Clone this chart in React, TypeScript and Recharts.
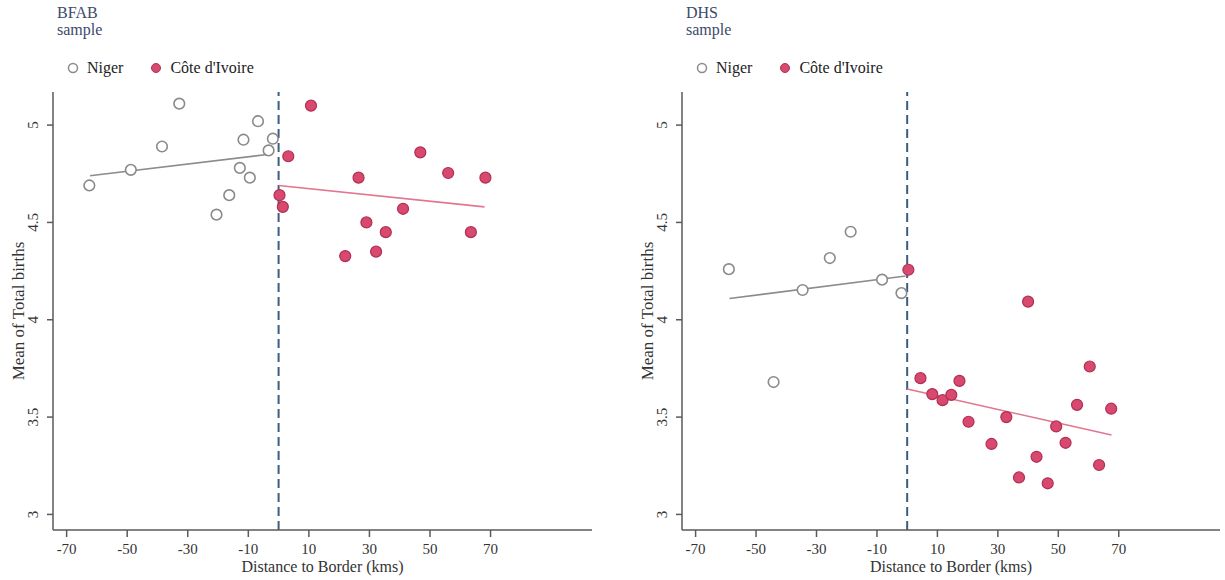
import React from 'react';
import { ScatterChart, Scatter, XAxis, YAxis, ReferenceLine, Legend } from 'recharts';

const xTicks = [-70, -50, -30, -10, 10, 30, 50, 70];
const yTicks = [3, 3.5, 4, 4.5, 5];

// BFAB sample
const bfabNiger = [
  { x: -62.5, y: 4.69 }, { x: -48.8, y: 4.77 }, { x: -38.5, y: 4.89 }, { x: -32.8, y: 5.11 },
  { x: -20.5, y: 4.54 }, { x: -16.3, y: 4.64 }, { x: -12.8, y: 4.78 }, { x: -11.6, y: 4.925 },
  { x: -9.5, y: 4.73 }, { x: -6.8, y: 5.02 }, { x: -3.3, y: 4.87 }, { x: -1.9, y: 4.93 },
];
const bfabCI = [
  { x: 0.3, y: 4.64 }, { x: 1.4, y: 4.58 }, { x: 3.2, y: 4.84 }, { x: 10.7, y: 5.1 },
  { x: 22, y: 4.327 }, { x: 26.4, y: 4.73 }, { x: 29, y: 4.5 }, { x: 32.2, y: 4.35 },
  { x: 35.4, y: 4.45 }, { x: 41.1, y: 4.57 }, { x: 46.8, y: 4.86 }, { x: 56, y: 4.754 },
  { x: 63.5, y: 4.45 }, { x: 68.3, y: 4.73 },
];
const bfabNigerFit = [{ x: -62.3, y: 4.74 }, { x: -3.2, y: 4.85 }];
const bfabCIFit = [{ x: 0, y: 4.69 }, { x: 68, y: 4.58 }];

// DHS sample
const dhsNiger = [
  { x: -59, y: 4.26 }, { x: -44.2, y: 3.68 }, { x: -34.6, y: 4.153 }, { x: -25.6, y: 4.317 },
  { x: -18.7, y: 4.452 }, { x: -8.3, y: 4.206 }, { x: -1.9, y: 4.137 },
];
const dhsCI = [
  { x: 0.4, y: 4.257 }, { x: 4.4, y: 3.7 }, { x: 8.3, y: 3.618 }, { x: 11.7, y: 3.587 },
  { x: 14.6, y: 3.614 }, { x: 17.3, y: 3.686 }, { x: 20.3, y: 3.476 }, { x: 27.9, y: 3.362 },
  { x: 32.8, y: 3.5 }, { x: 37, y: 3.19 }, { x: 40, y: 4.093 }, { x: 42.8, y: 3.296 },
  { x: 46.5, y: 3.16 }, { x: 49.3, y: 3.452 }, { x: 52.4, y: 3.368 }, { x: 56.2, y: 3.563 },
  { x: 60.4, y: 3.76 }, { x: 63.5, y: 3.254 }, { x: 67.5, y: 3.543 },
];
const dhsNigerFit = [{ x: -58.8, y: 4.109 }, { x: -0.5, y: 4.225 }];
const dhsCIFit = [{ x: 0, y: 3.644 }, { x: 67.6, y: 3.408 }];

const FONT = '"Liberation Serif", "Times New Roman", serif';
const AXIS = '#5a5a5a';
const NIGER = '#8a8a8a';
const CI_FILL = '#d8486f';
const CI_STROKE = '#b02f52';

const HollowDot = (p: any) => (
  <circle cx={p.cx} cy={p.cy} r={5.3} fill="#fff" stroke={NIGER} strokeWidth={1.6} />
);
const FilledDot = (p: any) => (
  <circle cx={p.cx} cy={p.cy} r={5.5} fill={CI_FILL} stroke={CI_STROKE} strokeWidth={1.2} />
);
const NoDot = () => <g />;

const YTick = ({ x, y, payload }: any) => (
  <text
    x={x - 9}
    y={y}
    transform={`rotate(-90 ${x - 9} ${y})`}
    textAnchor="middle"
    fontSize={15}
    fontFamily={FONT}
    fill="#333"
  >
    {payload.value}
  </text>
);

const LegendBox = () => (
  <div style={{ display: 'flex', alignItems: 'center', fontFamily: FONT, fontSize: 16, color: '#222' }}>
    <svg width={12} height={12} style={{ marginRight: 8 }}>
      <circle cx={6} cy={6} r={4.5} fill="#fff" stroke={NIGER} strokeWidth={1.5} />
    </svg>
    <span style={{ marginRight: 27 }}>Niger</span>
    <svg width={12} height={12} style={{ marginRight: 8 }}>
      <circle cx={6} cy={6} r={4.5} fill={CI_FILL} stroke={CI_STROKE} strokeWidth={1} />
    </svg>
    <span>Côte d'Ivoire</span>
  </div>
);

interface PanelProps {
  title: string;
  niger: { x: number; y: number }[];
  ci: { x: number; y: number }[];
  nigerFit: { x: number; y: number }[];
  ciFit: { x: number; y: number }[];
  left: number;
  width: number;
  right: number;
}

const Panel: React.FC<PanelProps> = ({ title, niger, ci, nigerFit, ciFit, left, width, right }) => (
  <div style={{ position: 'absolute', left, top: 0, width, height: 580 }}>
    <div style={{ position: 'absolute', left: 57, top: 4, fontFamily: FONT, fontSize: 16, lineHeight: '17px', color: '#3b4a6b' }}>
      {title}
      <br />
      sample
    </div>
    <ScatterChart width={width} height={580} margin={{ top: 92, right, bottom: 0, left: 0 }}>
      <XAxis
        type="number"
        dataKey="x"
        domain={[-74.5, 103.5]}
        allowDataOverflow
        ticks={xTicks}
        height={50}
        tickSize={7}
        tickMargin={6}
        stroke={AXIS}
        strokeWidth={1.5}
        tick={{ fontSize: 15, fontFamily: FONT, fill: '#333' }}
        label={{ value: 'Distance to Border (kms)', position: 'insideBottom', offset: 8, style: { fontSize: 16, fontFamily: FONT, fill: '#333' } }}
      />
      <YAxis
        type="number"
        dataKey="y"
        domain={[2.92, 5.17]}
        allowDataOverflow
        ticks={yTicks}
        width={53}
        tickSize={6}
        tickMargin={0}
        stroke={AXIS}
        strokeWidth={1.5}
        tick={<YTick />}
        label={{ value: 'Mean of Total births', angle: -90, position: 'insideLeft', offset: 18, style: { textAnchor: 'middle', fontSize: 17, fontFamily: FONT, fill: '#333' } }}
      />
      <Legend
        layout="horizontal"
        verticalAlign="middle"
        align="center"
        wrapperStyle={{ top: 59, left: 67, width: 300 }}
        content={<LegendBox />}
      />
      <ReferenceLine x={0} stroke="#3d5d80" strokeWidth={2} strokeDasharray="9 5" />
      <Scatter data={nigerFit} line={{ stroke: '#8c8c8c', strokeWidth: 1.6 }} shape={NoDot} isAnimationActive={false} legendType="none" />
      <Scatter data={ciFit} line={{ stroke: '#e27590', strokeWidth: 1.6 }} shape={NoDot} isAnimationActive={false} legendType="none" />
      <Scatter name="Niger" data={niger} shape={HollowDot} isAnimationActive={false} />
      <Scatter name="Côte d'Ivoire" data={ci} shape={FilledDot} isAnimationActive={false} />
    </ScatterChart>
  </div>
);

export default function App() {
  return (
    <div style={{ position: 'absolute', left: 0, top: 0, width: 1225, height: 580, background: '#fff' }}>
      <Panel title="BFAB" niger={bfabNiger} ci={bfabCI} nigerFit={bfabNigerFit} ciFit={bfabCIFit} left={0} width={612} right={20} />
      <Panel title="DHS" niger={dhsNiger} ci={dhsCI} nigerFit={dhsNigerFit} ciFit={dhsCIFit} left={629} width={596} right={5} />
    </div>
  );
}
